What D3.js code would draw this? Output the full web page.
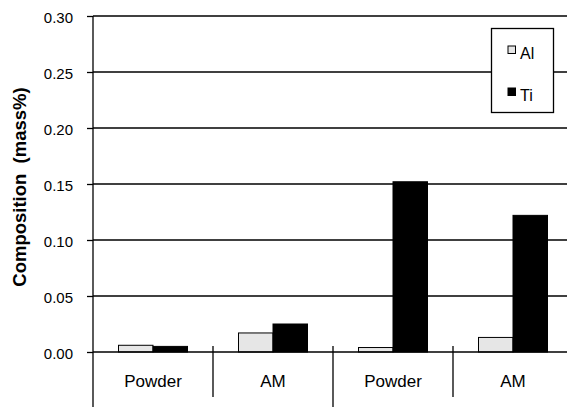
<!DOCTYPE html>
<html>
<head>
<meta charset="utf-8">
<script src="https://cdn.jsdelivr.net/npm/d3@7"></script>
<style>
  html, body { margin: 0; padding: 0; background: #fff; }
  svg { display: block; font-family: "Liberation Sans", Arial, sans-serif; }
</style>
</head>
<body>
<svg id="chart" width="567" height="407"></svg>
<script>
// Composition of Al and Ti in powder and additively manufactured (AM) samples
const categories = ["Powder", "AM", "Powder", "AM"];
const seriesNames = ["Al", "Ti"];
const alValues = [0.006, 0.017, 0.004, 0.013];
const tiValues = [0.005, 0.025, 0.152, 0.122];
const yTicks = [0, 0.05, 0.10, 0.15, 0.20, 0.25, 0.30];
const seriesFill = { Al: "#e6e6e6", Ti: "#000000" };

(function () {
  const svg = d3.select("#chart");
  const W = 567, H = 407;
  const pLeft = 93, pRight = 573, pTop = 16, pBottom = 352;

  const ids = categories.map((c, i) => i);
  const x = d3.scaleBand().domain(ids).range([pLeft, pRight])
    .paddingInner(0.425).paddingOuter(0.2125);
  const xs = d3.scaleBand().domain(seriesNames).range([0, x.bandwidth()]);
  const y = d3.scaleLinear().domain([0, 0.30]).range([pBottom, pTop]);

  // gridlines
  svg.append("g").selectAll("line").data(yTicks.filter(t => t > 0)).join("line")
    .attr("x1", pLeft).attr("x2", pRight)
    .attr("y1", d => y(d)).attr("y2", d => y(d))
    .attr("stroke", "#000").attr("stroke-width", 1.3);

  // y axis
  const yAxis = d3.axisLeft(y).tickValues(yTicks).tickFormat(d3.format(".2f"))
    .tickSize(6).tickPadding(14);
  const gy = svg.append("g").attr("transform", `translate(${pLeft},0)`).call(yAxis);
  gy.select(".domain").remove();
  gy.selectAll(".tick line").attr("stroke", "#000").attr("stroke-width", 1.3);
  gy.selectAll(".tick text").attr("font-size", 15).attr("fill", "#000")
    .attr("font-family", "Liberation Sans, Arial, sans-serif").attr("dy", "0.4em");
  svg.append("line").attr("x1", pLeft).attr("x2", pLeft).attr("y1", pTop).attr("y2", H)
    .attr("stroke", "#000").attr("stroke-width", 1.3);

  // bars
  const rows = ids.map(i => ({ i, Al: alValues[i], Ti: tiValues[i] }));
  const groups = svg.append("g").selectAll("g").data(rows).join("g")
    .attr("transform", d => `translate(${x(d.i)},0)`);
  groups.selectAll("rect").data(d => seriesNames.map(k => ({ k, v: d[k] }))).join("rect")
    .attr("x", d => xs(d.k)).attr("width", xs.bandwidth())
    .attr("y", d => y(d.v)).attr("height", d => y(0) - y(d.v))
    .attr("fill", d => seriesFill[d.k]).attr("stroke", "#000").attr("stroke-width", 1);

  // baseline
  svg.append("line").attr("x1", pLeft).attr("x2", pRight).attr("y1", y(0)).attr("y2", y(0))
    .attr("stroke", "#000").attr("stroke-width", 1.3);

  // category separators
  const step = x.step();
  [1, 2, 3].forEach(k => {
    const sx = pLeft + k * step;
    svg.append("line").attr("x1", sx).attr("x2", sx)
      .attr("y1", y(0) - 6).attr("y2", k === 2 ? H : 397)
      .attr("stroke", "#000").attr("stroke-width", 1.3);
  });

  // category labels
  svg.append("g").selectAll("text").data(ids).join("text")
    .attr("x", d => x(d) + x.bandwidth() / 2).attr("y", 387)
    .attr("text-anchor", "middle").attr("font-size", 17).attr("fill", "#000")
    .text(d => categories[d]);

  // y title
  svg.append("text")
    .attr("transform", `translate(26,${(pTop + pBottom) / 2 + 3}) rotate(-90)`)
    .attr("text-anchor", "middle").attr("font-size", 18.5).attr("font-weight", "bold")
    .attr("fill", "#000").attr("xml:space", "preserve")
    .text("Composition  (mass%)");

  // legend
  const lg = svg.append("g");
  lg.append("rect").attr("x", 491.5).attr("y", 28.5).attr("width", 62).attr("height", 84)
    .attr("fill", "#fff").attr("stroke", "#000").attr("stroke-width", 1.3);
  seriesNames.forEach((s, i) => {
    const yy = 46 + i * 42;
    lg.append("rect").attr("x", 508).attr("y", yy).attr("width", 7.5).attr("height", 7.5)
      .attr("fill", seriesFill[s]).attr("stroke", "#000").attr("stroke-width", 1);
    lg.append("text").attr("x", 520).attr("y", yy + 12.5).attr("font-size", 16)
      .attr("fill", "#000").text(s);
  });
})();
</script>
</body>
</html>
